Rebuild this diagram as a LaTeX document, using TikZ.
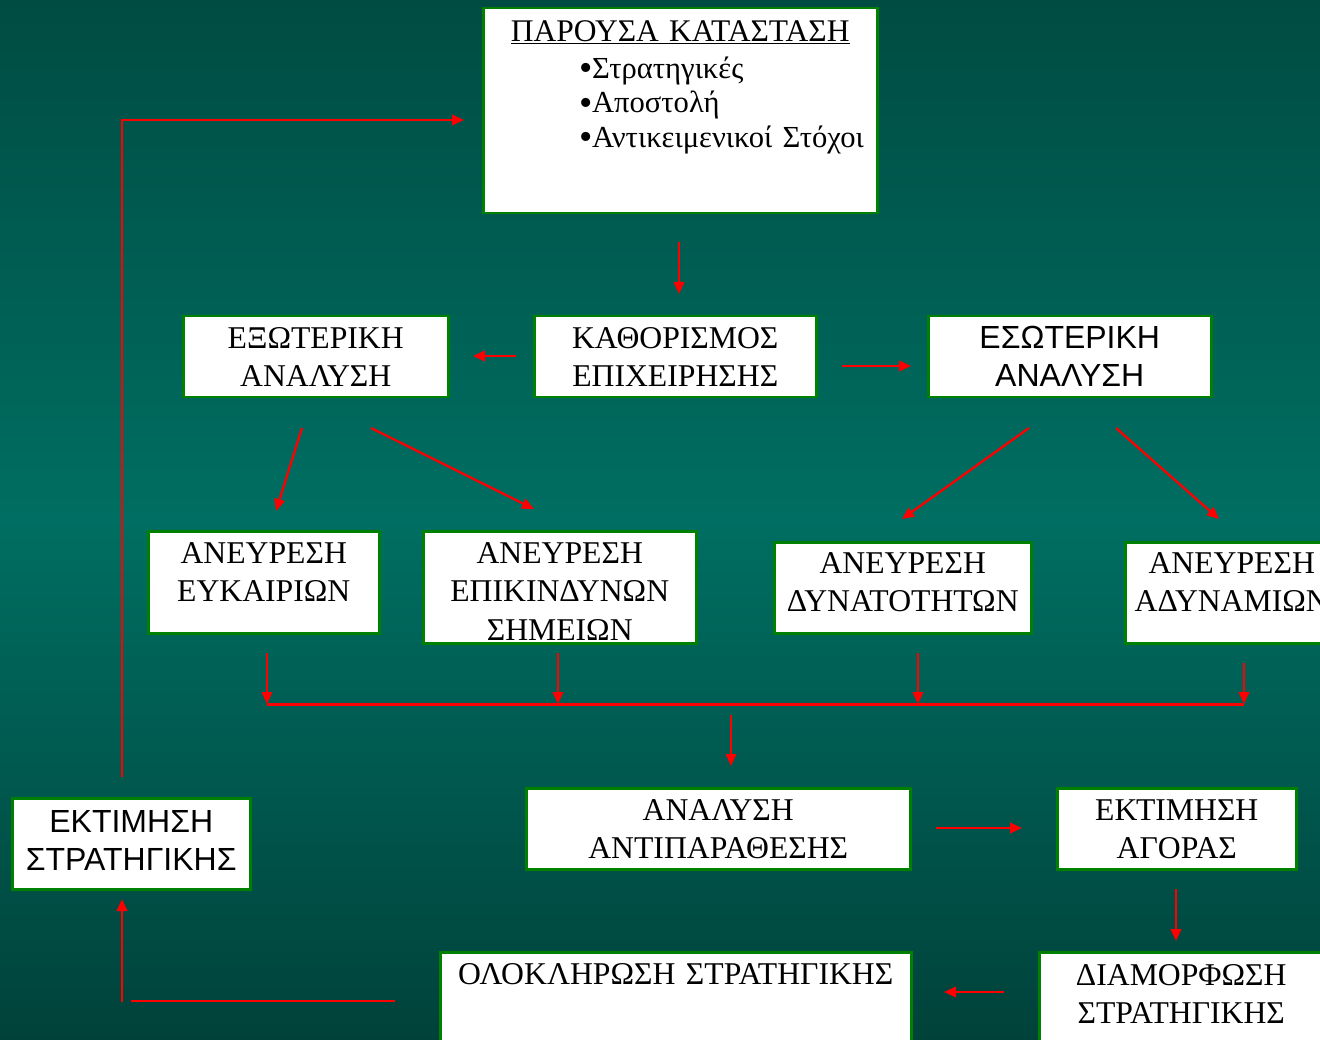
\documentclass[tikz,border=0pt]{standalone}
\usepackage{fontspec}
\setmainfont{Liberation Serif}
\newfontfamily\arialfont{Liberation Sans}
\usetikzlibrary{arrows.meta}
\definecolor{bgtop}{RGB}{0,76,66}
\definecolor{bgmid}{RGB}{0,110,98}
\definecolor{bgbot}{RGB}{0,66,58}
\definecolor{boxgreen}{RGB}{0,128,0}
\definecolor{arrred}{RGB}{255,0,0}
\newcommand\bigbul{\raisebox{-2.5pt}[0pt][0pt]{\fontsize{38}{30}\selectfont •}}
\tikzset{
  box/.style={draw=boxgreen, line width=2.5pt, fill=white, inner sep=0pt,
    anchor=north west, align=center, text=black, text height=32pt,
    font=\fontsize{31.7}{38.5}\selectfont},
  sansbox/.style={box, font=\arialfont\fontsize{32}{38}\selectfont},
  arr/.style={draw=arrred, line width=2.3pt, -{Triangle[length=12pt,width=10.5pt]}},
  joinbar/.style={draw=arrred, line width=3pt},
  redline/.style={draw=arrred, line width=2.5pt}
}
\begin{document}
\begin{tikzpicture}[x=1pt,y=-1pt]
\useasboundingbox (0,0) rectangle (1320,1040);
\clip (0,0) rectangle (1320,1040);
\shade[top color=bgtop, bottom color=bgmid] (0,0) rectangle (1320,520);
\shade[top color=bgmid, bottom color=bgbot] (0,519.5) rectangle (1320,1040);

% boxes
\node[box, text width=394pt, text depth=172pt, text height=33pt, align=left,
  font=\fontsize{30.6}{34.5}\selectfont] (pres) at (482,7)
  {\makebox[394pt]{\fontsize{31.5}{34.5}\selectfont\underline{ΠΑΡΟΥΣΑ ΚΑΤΑΣΤΑΣΗ}}\\[2.5pt]
   \hspace*{96.5pt}\bigbul\kern-1pt Στρατηγικές\\
   \hspace*{96.5pt}\bigbul\kern-1pt Αποστολή\\
   \hspace*{96.5pt}\bigbul\kern-1pt Αντικειμενικοί Στόχοι};
\node[box, text width=265pt, text depth=49pt] (ext) at (182,315) {ΕΞΩΤΕΡΙΚΗ\\ΑΝΑΛΥΣΗ};
\node[box, text width=282pt, text depth=49pt] (kath) at (533,315) {ΚΑΘΟΡΙΣΜΟΣ\\ΕΠΙΧΕΙΡΗΣΗΣ};
\node[sansbox, text width=283pt, text depth=49pt] (esw) at (927,315) {ΕΣΩΤΕΡΙΚΗ\\ΑΝΑΛΥΣΗ};
\node[box, text width=231pt, text depth=70pt] (eyk) at (147,530) {ΑΝΕΥΡΕΣΗ\\ΕΥΚΑΙΡΙΩΝ};
\node[box, text width=273pt, text depth=80pt] (epik) at (422,530) {ΑΝΕΥΡΕΣΗ\\ΕΠΙΚΙΝΔΥΝΩΝ\\ΣΗΜΕΙΩΝ};
\node[box, text width=257pt, text depth=60pt, text height=31pt] (dyn) at (773,541) {ΑΝΕΥΡΕΣΗ\\ΔΥΝΑΤΟΤΗΤΩΝ};
\node[box, text width=213pt, text depth=70pt, text height=31pt] (adyn) at (1124,541) {ΑΝΕΥΡΕΣΗ\\ΑΔΥΝΑΜΙΩΝ};
\node[box, text width=384pt, text depth=49pt] (antip) at (525,787) {ΑΝΑΛΥΣΗ\\ΑΝΤΙΠΑΡΑΘΕΣΗΣ};
\node[box, text width=239pt, text depth=49pt] (agor) at (1056,787) {ΕΚΤΙΜΗΣΗ\\ΑΓΟΡΑΣ};
\node[sansbox, text width=238pt, text depth=57pt, text height=34pt] (ektstr) at (11,797) {ΕΚΤΙΜΗΣΗ\\ΣΤΡΑΤΗΓΙΚΗΣ};
\node[box, text width=471pt, text depth=70pt] (olok) at (439,951) {ΟΛΟΚΛΗΡΩΣΗ ΣΤΡΑΤΗΓΙΚΗΣ};
\node[box, text width=284pt, text depth=70pt, text height=33pt] (diam) at (1038,951) {ΔΙΑΜΟΡΦΩΣΗ\\ΣΤΡΑΤΗΓΙΚΗΣ};

% free connector ends
\coordinate (a1s) at (679,242); \coordinate (a1e) at (679,294);
\coordinate (a2s) at (516,356); \coordinate (a2e) at (473,356);
\coordinate (a3s) at (842,366); \coordinate (a3e) at (911,366);
\coordinate (a4s) at (302,428); \coordinate (a4e) at (276,511);
\coordinate (a5s) at (371,428); \coordinate (a5e) at (534,509);
\coordinate (a6s) at (1029,428); \coordinate (a6e) at (902,519);
\coordinate (a7s) at (1116,428); \coordinate (a7e) at (1219,519);
\coordinate (v1s) at (267,653); \coordinate (v1e) at (267,704);
\coordinate (v2s) at (558,653); \coordinate (v2e) at (558,704);
\coordinate (v3s) at (918,653); \coordinate (v3e) at (918,704);
\coordinate (v4s) at (1244,663); \coordinate (v4e) at (1244,704);
\coordinate (ms) at (731,715); \coordinate (me) at (731,766);
\coordinate (a8s) at (936,828); \coordinate (a8e) at (1022,828);
\coordinate (a9s) at (1176,889); \coordinate (a9e) at (1176,941);
\coordinate (a10s) at (1004,992); \coordinate (a10e) at (944,992);
\coordinate (ls) at (395,1001); \coordinate (le) at (131,1001);
\coordinate (us) at (122,1002); \coordinate (ue) at (122,899);
\coordinate (fs) at (122,777); \coordinate (fc) at (122,120); \coordinate (fe) at (464,120);

% connectors
\draw[arr] (a1s) -- (a1e);
\draw[arr] (a2s) -- (a2e);
\draw[arr] (a3s) -- (a3e);
\draw[arr] (a4s) -- (a4e);
\draw[arr] (a5s) -- (a5e);
\draw[arr] (a6s) -- (a6e);
\draw[arr] (a7s) -- (a7e);
\draw[joinbar] (v1e) -- (v4e);
\draw[arr] (v1s) -- (v1e);
\draw[arr] (v2s) -- (v2e);
\draw[arr] (v3s) -- (v3e);
\draw[arr] (v4s) -- (v4e);
\draw[arr] (ms) -- (me);
\draw[arr] (a8s) -- (a8e);
\draw[arr] (a9s) -- (a9e);
\draw[arr] (a10s) -- (a10e);
\draw[redline] (ls) -- (le);
\draw[arr, line width=2.5pt] (us) -- (ue);
\draw[arr, line width=2.5pt] (fs) -- (fc) -- (fe);
\end{tikzpicture}
\end{document}
